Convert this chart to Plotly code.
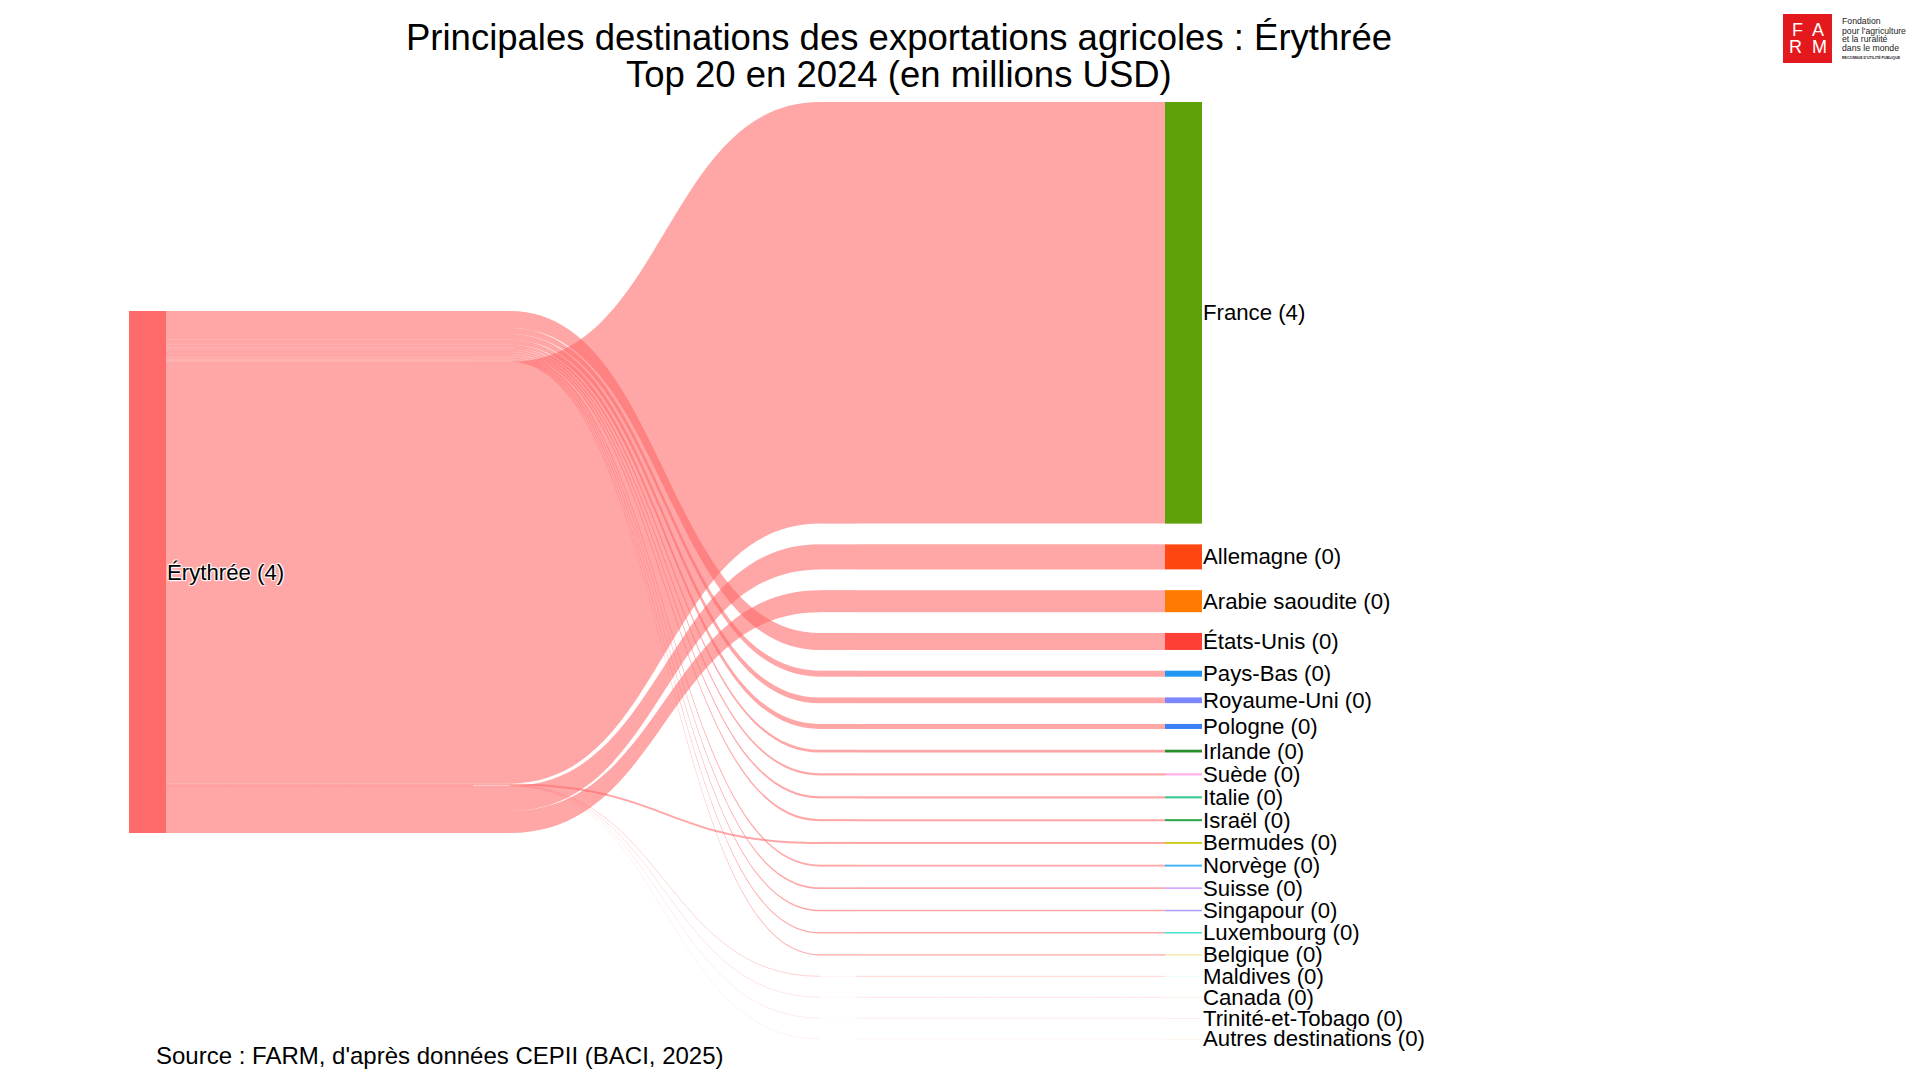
import plotly.graph_objects as go

# ---------------- data (order as in the source data) ----------------
source_name = "Érythrée"
destinations = [
    "États-Unis", "Pays-Bas", "Royaume-Uni", "Pologne", "Irlande", "Suède",
    "Italie", "Israël", "Norvège", "Suisse", "Singapour", "Luxembourg",
    "Belgique", "France", "Bermudes", "Maldives", "Canada",
    "Trinité-et-Tobago", "Autres destinations", "Allemagne", "Arabie saoudite",
]
values = [
    0.142, 0.050, 0.048, 0.042, 0.023, 0.019,
    0.018, 0.017, 0.016, 0.014, 0.013, 0.012,
    0.010, 3.52, 0.0165, 0.002, 0.0012,
    0.0008, 0.0006, 0.209, 0.184,
]
# order in which the flows leave the source node (top to bottom blocks)
flow_block = [
    0, 0, 0, 0, 0, 0,
    0, 0, 0, 0, 0, 0,
    0, 1, 2, 2, 2,
    2, 2, 3, 3,
]
dest_colors = [
    "#FF3F36", "#2196F3", "#7B86FF", "#3B7EF5", "#2A8B2A", "#FFB3E6",
    "#3CCB95", "#2AA84A", "#3BB4F2", "#D1A7FF", "#ABA3FF", "#3DE0C8",
    "#F2E49A", "#5FA10A", "#CCCC1F", "#D8F7F7", "#F5EBD3",
    "#FCDDE0", "#FBEBD9", "#FF4510", "#FF7A00",
]
source_color = "#FF6B6B"
LINK_RGB = (255, 107, 107)
LINK_ALPHA = 0.6

title_line1 = "Principales destinations des exportations agricoles : Érythrée"
title_line2 = "Top 20 en 2024 (en millions USD)"
source_text = "Source : FARM, d'après données CEPII (BACI, 2025)"

# ---------------- layout geometry ----------------
W, H = 1920, 1080
ML, MT = 121, 94
DW, DH = 1073, 937
MR, MB = W - ML - DW, H - MT - DH
PAD = 20.75
THICK = 37
SRC_CENTER = 470          # px from top of the sankey domain
BEND_START, BEND_END = 381, 691   # px from the left of the domain: where flows bend

n = len(destinations)
total = sum(values)
ky = (DH - PAD * (n - 1)) / total

# destinations stacked by decreasing value (rank order)
rank = sorted(range(n), key=lambda i: -values[i])
rank_pos = {i: r for r, i in enumerate(rank)}
dst_y = [0.0] * n
acc = 0.0
for i in rank:
    h = values[i] * ky
    dst_y[i] = (acc + h / 2) / DH
    acc += h + PAD

# position of every flow where it leaves the source node
order = sorted(range(n), key=lambda i: (flow_block[i], rank_pos[i]))
out_y = [0.0] * n
top = SRC_CENTER - total * ky / 2
for i in order:
    h = values[i] * ky
    out_y[i] = (top + h / 2) / DH
    top += h

# sub-pixel flows are drawn with proportionally lower opacity (coverage)
flow_col = [
    "rgba(%d,%d,%d,%.3f)" % (LINK_RGB + (LINK_ALPHA * min(1.0, v * ky),))
    for v in values
]

x_src = (THICK / 2) / DW
x_a = (BEND_START - THICK / 2) / DW
x_b = (BEND_END + THICK / 2) / DW
x_dst = 1 - (THICK / 2) / DW

src_label = f"{source_name} ({round(total)})"
dst_labels = [f"{d} ({round(v)})" for d, v in zip(destinations, values)]

# nodes: source, bend-in helpers, bend-out helpers, destinations
A0, B0, T0 = 1, 1 + n, 1 + 2 * n
node_x = [x_src] + [x_a] * n + [x_b] * n + [x_dst] * n
node_y_all = [SRC_CENTER / DH] + out_y + dst_y + dst_y
node_col = [source_color] + flow_col + flow_col + dest_colors
node_cd = [src_label] + dst_labels + dst_labels + dst_labels

link_src = [0] * n + [A0 + i for i in range(n)] + [B0 + i for i in range(n)]
link_tgt = [A0 + i for i in range(n)] + [B0 + i for i in range(n)] + [T0 + i for i in range(n)]
link_val = values * 3
link_col = flow_col * 3

fig = go.Figure(go.Sankey(
    arrangement="fixed",
    domain=dict(x=[0, 1], y=[0, 1]),
    node=dict(
        label=[""] * len(node_x),
        customdata=node_cd,
        hovertemplate="%{customdata}<extra></extra>",
        color=node_col,
        pad=PAD,
        thickness=THICK,
        line=dict(width=0),
        x=node_x,
        y=node_y_all,
    ),
    link=dict(
        source=link_src,
        target=link_tgt,
        value=link_val,
        color=link_col,
        hovertemplate="%{target.customdata}<extra></extra>",
    ),
))


def px(xp):
    return (xp - ML) / DW


def py(yp):
    return 1 - (yp - MT) / DH


FONT = "Arial, Liberation Sans, sans-serif"
SHADOW = "1px 1px 1px #fff, -1px -1px 1px #fff, 1px -1px 1px #fff, -1px 1px 1px #fff"
ann = [
    dict(text=title_line1, x=px(891), y=py(30), font=dict(family=FONT, size=36.5, color="black")),
    dict(text=title_line2, x=px(891), y=py(67), font=dict(family=FONT, size=36.5, color="black")),
    dict(text=source_text, x=px(146), y=py(1047.5), xanchor="left",
         font=dict(family=FONT, size=24, color="black")),
    # logo
    dict(text="F  A", x=px(1799.5), y=py(22), font=dict(family=FONT, size=18, color="white")),
    dict(text="R  M", x=px(1799.5), y=py(39), font=dict(family=FONT, size=18, color="white")),
    dict(text="Fondation", x=px(1832), y=py(13), xanchor="left", font=dict(family=FONT, size=8.7, color="#222")),
    dict(text="pour l'agriculture", x=px(1832), y=py(22.5), xanchor="left", font=dict(family=FONT, size=8.7, color="#222")),
    dict(text="et la ruralité", x=px(1832), y=py(31.5), xanchor="left", font=dict(family=FONT, size=8.7, color="#222")),
    dict(text="dans le monde", x=px(1832), y=py(40), xanchor="left", font=dict(family=FONT, size=8.7, color="#222")),
    dict(text="<b>RECONNUE D'UTILITÉ PUBLIQUE</b>", x=px(1832), y=py(49), xanchor="left", font=dict(family=FONT, size=3.6, color="#222")),
]
# node labels (placed to the right of every node)
lab_font = dict(family=FONT, size=22.2, color="black", shadow=SHADOW)
ann.append(dict(text=src_label, x=px(ML + THICK - 1.5), y=1 - SRC_CENTER / DH,
                xanchor="left", font=lab_font))
for lab, yy in zip(dst_labels, dst_y):
    ann.append(dict(text=lab, x=1 - 1.5 / DW, y=1 - yy, xanchor="left", font=lab_font))

for a in ann:
    a.setdefault("xanchor", "center")
    a.update(xref="paper", yref="paper", yanchor="middle", showarrow=False)

fig.update_layout(
    width=W, height=H,
    margin=dict(l=ML, r=MR, t=MT, b=MB, pad=0),
    paper_bgcolor="white", plot_bgcolor="white",
    font=dict(family=FONT),
    annotations=ann,
    shapes=[dict(type="rect", xref="paper", yref="paper",
                 x0=px(1775), x1=px(1824), y0=py(55), y1=py(6),
                 fillcolor="#E3191E", line=dict(width=0))],
)

fig.write_html("out.html")
